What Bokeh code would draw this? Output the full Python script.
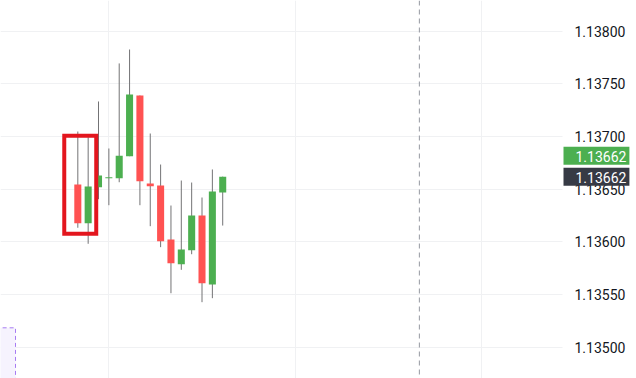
from bokeh.plotting import figure
from bokeh.models import Range1d, FixedTicker, Span, Label
from bokeh.core.properties import value
from bokeh.embed import file_html
from bokeh.resources import INLINE

# candle data (index, OHLC)
idx = list(range(15))
opens  = [1.136545, 1.136178, 1.136520, 1.136605, 1.136605, 1.136814, 1.137390, 1.136555,
          1.136536, 1.136024, 1.135789, 1.135922, 1.136251, 1.135597, 1.136470]
highs  = [1.137048, 1.136994, 1.137333, 1.136887, 1.137694, 1.137826, 1.137390, 1.137029,
          1.136735, 1.136346, 1.136583, 1.136564, 1.136422, 1.136688, 1.136620]
lows   = [1.136135, 1.135983, 1.136406, 1.136349, 1.136567, 1.136814, 1.136349, 1.136150,
          1.135951, 1.135514, 1.135736, 1.135884, 1.135429, 1.135467, 1.136156]
closes = [1.136178, 1.136527, 1.136631, 1.136615, 1.136818, 1.137399, 1.136577, 1.136529,
          1.136008, 1.135799, 1.135929, 1.136251, 1.135609, 1.136479, 1.136620]

price_ticks = [1.1350, 1.1355, 1.1360, 1.1365, 1.1370, 1.1375, 1.1380]
price_labels = ["%.5f" % t for t in price_ticks]
time_grid = [3, 21, 39]
marker_time = 33
last_price = 1.13662
last_label = "1.13662"

# annotation boxes (data space)
hl_box = dict(left=-1.31, right=1.78, top=1.137008, bottom=1.136078)
zone_box = dict(left=-12.0, right=-6.02, top=1.135186, bottom=1.1340)

X0, X1 = -7.47, 53.98      # full canvas width
XA = 46.83                 # start of price-scale strip
Y0, Y1 = 1.134705, 1.138291

p = figure(width=636, height=378, output_backend="svg", toolbar_location=None,
           x_range=Range1d(X0, X1), y_range=Range1d(Y0, Y1),
           min_border=0, y_axis_location=None, x_axis_location=None)
p.outline_line_color = None
p.background_fill_color = "white"
p.border_fill_color = "white"

p.ygrid.ticker = FixedTicker(ticks=price_ticks)
p.xgrid.ticker = FixedTicker(ticks=time_grid)
p.grid.grid_line_color = "#f0f1f3"
p.grid.grid_line_width = 1

# price scale strip (hides grid there)
p.quad(left=[XA], right=[X1 + 5], top=[Y1 + 1], bottom=[Y0 - 1],
       fill_color="white", line_color=None)
p.text(x=[XA] * len(price_ticks), y=price_ticks, text=price_labels, x_offset=12,
       text_font=value("Roboto"), text_font_size="14px", text_color="#131722",
       text_baseline="middle", text_align="left")

# zone box
p.quad(left=[zone_box["left"]], right=[zone_box["right"]], top=[zone_box["top"]],
       bottom=[zone_box["bottom"]], fill_color="#f6f3fe", line_color="#a77cf2",
       line_dash="4 3", line_width=1)

p.add_layout(Span(location=marker_time, dimension="height", line_color="#9598a1",
                  line_dash="5 4", line_width=1))

up = [c >= o for o, c in zip(opens, closes)]
colors = ["#4caf50" if u else "#ff5252" for u in up]
tops = [max(o, c) for o, c in zip(opens, closes)]
bots = [min(o, c) for o, c in zip(opens, closes)]
tops = [t if t - b > 1e-5 else b + 1e-5 for t, b in zip(tops, bots)]

p.segment(x0=idx, x1=idx, y0=lows, y1=highs, line_color="#737375", line_width=1)
p.vbar(x=idx, width=0.68, top=tops, bottom=bots, fill_color=colors, line_color=None)

p.quad(left=[hl_box["left"]], right=[hl_box["right"]], top=[hl_box["top"]],
       bottom=[hl_box["bottom"]], fill_color=None, line_color="#e3161e", line_width=4,
       line_join="miter")

pad = dict(left=12, right=3, top=4, bottom=3)
p.add_layout(Label(x=XA, y=last_price, text=last_label, x_offset=1, y_offset=21,
                   text_font="Roboto", text_font_size="14px", text_color="white",
                   text_baseline="middle", text_align="left",
                   background_fill_color="#4caf50", padding=pad))
p.add_layout(Label(x=XA, y=last_price, text=last_label, x_offset=1, y_offset=0,
                   text_font="Roboto", text_font_size="14px", text_color="white",
                   text_baseline="middle", text_align="left",
                   background_fill_color="#363a45", padding=pad))

open("out.html", "w").write(file_html(p, INLINE))
